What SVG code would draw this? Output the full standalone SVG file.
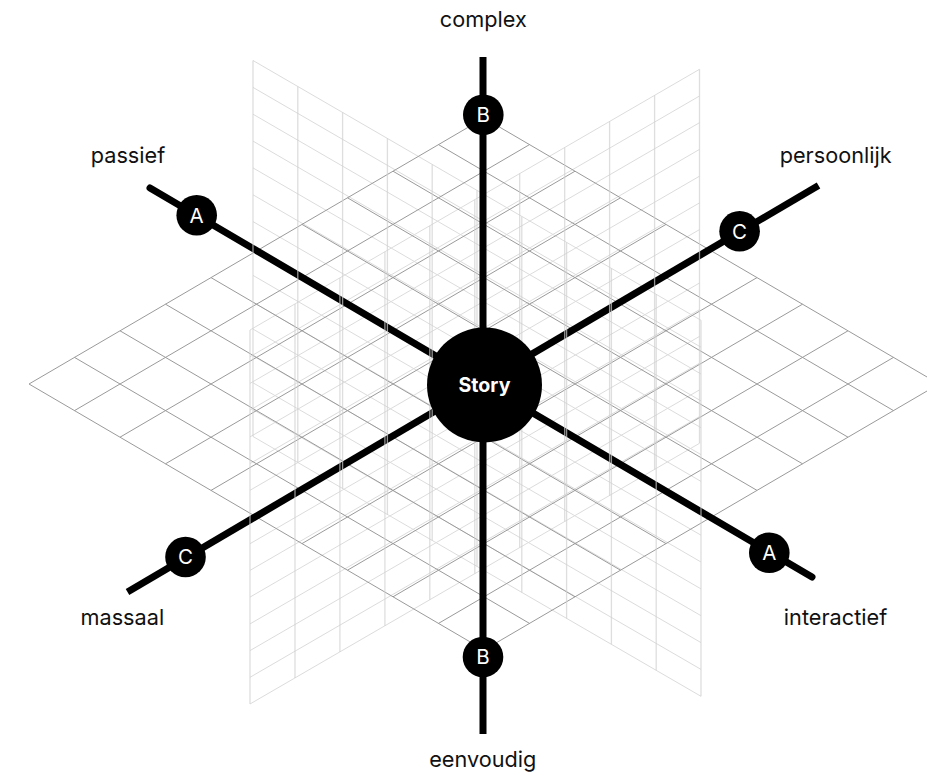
<svg xmlns="http://www.w3.org/2000/svg" width="927" height="773" viewBox="0 0 927 773">
<style>
.floor{fill:none;stroke:#9a9a9a;stroke-width:1}
.ph{fill:none;stroke:#dcdcdc;stroke-width:1}
.pv{fill:none;stroke:#d0d0d0;stroke-width:1.3;opacity:0.7}
.axis{fill:none;stroke:#000;stroke-width:7}
.lbl{font-family:Inter,"Noto Sans","Liberation Sans",sans-serif;font-size:21.7px;fill:#111;text-anchor:middle}
.nd{fill:#000}
.nt{font-family:Inter,"Noto Sans","Liberation Sans",sans-serif;font-size:20.5px;fill:#fff;text-anchor:middle}
.st{font-family:Inter,"Noto Sans","Liberation Sans",sans-serif;font-size:19.6px;font-weight:700;fill:#fff;text-anchor:middle}
</style>
<rect width="927" height="773" fill="#fff"/>
<g id="planes-horizontal">
<path class="ph" d="M253 60.5l448 259.8M253 87.4l448 259.8M253 114.2l448 259.8M253 141.1l448 259.8M253 167.9l448 259.8M253 194.8l448 259.8M253 221.6l448 259.8M253 248.5l448 259.8M253 275.4l448 259.8M253 302.2l448 259.8M253 329.1l448 259.8M253 355.9l448 259.8M253 382.8l448 259.8M253 409.6l448 259.8M253 436.5l448 259.8"/>
<path class="ph" d="M250 330l449.5 -260.7M250 356.7l449.5 -260.7M250 383.4l449.5 -260.7M250 410.1l449.5 -260.7M250 436.9l449.5 -260.7M250 463.6l449.5 -260.7M250 490.3l449.5 -260.7M250 517l449.5 -260.7M250 543.7l449.5 -260.7M250 570.4l449.5 -260.7M250 597.1l449.5 -260.7M250 623.9l449.5 -260.7M250 650.6l449.5 -260.7M250 677.3l449.5 -260.7M250 704l449.5 -260.7"/>
</g>
<g id="floor">
<path class="floor" d="M29 384l455 266M74.5 357.4l455 266M120 330.8l455 266M165.5 304.2l455 266M211 277.6l455 266M256.5 251l455 266M302 224.4l455 266M347.5 197.8l455 266M393 171.2l455 266M438.5 144.6l455 266M484 118l455 266"/>
<path class="floor" d="M29 384l455 -266M74.5 410.6l455 -266M120 437.2l455 -266M165.5 463.8l455 -266M211 490.4l455 -266M256.5 517l455 -266M302 543.6l455 -266M347.5 570.2l455 -266M393 596.8l455 -266M438.5 623.4l455 -266M484 650l455 -266"/>
</g>
<g id="connectors">
<line class="axis" x1="483" y1="57" x2="483" y2="734"/>
<line class="axis" x1="150" y1="188" x2="812" y2="577" stroke-linecap="round"/>
<line class="axis" x1="127.5" y1="592" x2="818.5" y2="185.5"/>
</g>
<g id="planes-vertical">
<path class="pv" d="M253 60.5v376M297.8 86.5v376M342.6 112.5v376M387.4 138.4v376M432.2 164.4v376M477 190.4v376M521.8 216.4v376M566.6 242.4v376M611.4 268.3v376M656.2 294.3v376M701 320.3v376"/>
<path class="pv" d="M250 330v374M295 303.9v374M339.9 277.9v374M384.9 251.8v374M429.8 225.7v374M474.8 199.7v374M519.7 173.6v374M564.7 147.5v374M609.6 121.4v374M654.6 95.4v374M699.5 69.3v374"/>
</g>
<g id="node-story">
<circle class="nd" cx="484.5" cy="385" r="57.5"/>
<text class="st" x="484.5" y="391.5">Story</text>
</g>
<g id="node-b-top">
<circle class="nd" cx="483.3" cy="114.7" r="20.3"/>
<text class="nt" x="483.3" y="122">B</text>
</g>
<g id="node-b-bottom">
<circle class="nd" cx="483" cy="657" r="20.3"/>
<text class="nt" x="483" y="664.3">B</text>
</g>
<g id="node-a-left">
<circle class="nd" cx="196.7" cy="215.2" r="20.3"/>
<text class="nt" x="196.7" y="222.5">A</text>
</g>
<g id="node-a-right">
<circle class="nd" cx="769.3" cy="552.8" r="20.3"/>
<text class="nt" x="769.3" y="560.1">A</text>
</g>
<g id="node-c-right">
<circle class="nd" cx="739.6" cy="231.3" r="20.3"/>
<text class="nt" x="739.6" y="238.6">C</text>
</g>
<g id="node-c-left">
<circle class="nd" cx="185.5" cy="557" r="20.3"/>
<text class="nt" x="185.5" y="564.3">C</text>
</g>
<g id="labels">
<text class="lbl" x="483.3" y="27">complex</text>
<text class="lbl" x="128" y="163.3">passief</text>
<text class="lbl" x="835.7" y="163.3">persoonlijk</text>
<text class="lbl" x="122.3" y="625.3">massaal</text>
<text class="lbl" x="835.5" y="625.3">interactief</text>
<text class="lbl" x="482.8" y="767">eenvoudig</text>
</g>
</svg>
